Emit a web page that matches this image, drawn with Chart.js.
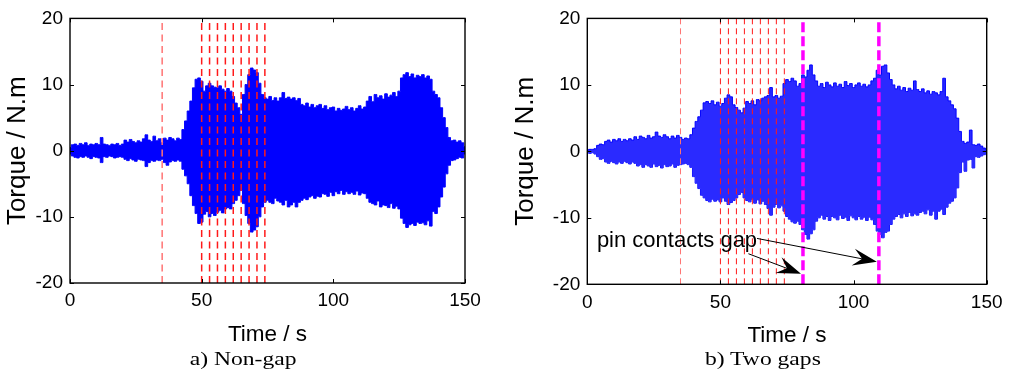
<!DOCTYPE html>
<html>
<head>
<meta charset="utf-8">
<script src="https://cdn.jsdelivr.net/npm/chart.js@4.4.1/dist/chart.umd.min.js"></script>
<style>
  html,body{margin:0;padding:0;background:#fff;}
  #wrap{position:relative;width:1014px;height:375px;overflow:hidden;background:#fff;}
  canvas{position:absolute;top:0;}
  .sub{position:absolute;top:349.3px;width:300px;text-align:center;font-family:'Liberation Serif','Times New Roman',serif;font-size:19.5px;line-height:19.5px;color:#000;}
  .sub span{display:inline-block;transform:scaleX(1.21);transform-origin:center;}
</style>
</head>
<body>
<div id="wrap">
  <canvas id="c1" width="507" height="375" style="left:0px"></canvas>
  <canvas id="c2" width="507" height="375" style="left:507px"></canvas>
  <div class="sub" style="left:93.5px"><span>a) Non-gap</span></div>
  <div class="sub" style="left:612.5px"><span>b) Two gaps</span></div>
</div>
<script>
// ---------------- DATA ----------------
// Sample times (s), one envelope sample per second
const TIME = Array.from({length:151}, (_, i) => i);

// a) Non-gap : upper / lower envelope of torque (N.m)
const NONGAP_UPPER = [0.5,0.9,1.0,0.8,1.1,0.9,1.2,0.8,1.0,0.9,
1.1,0.9,2.0,1.0,0.9,0.8,1.0,0.9,1.1,0.8,
1.0,1.6,1.3,1.7,1.4,1.2,1.5,1.3,1.8,2.4,
1.6,1.4,2.2,1.5,1.8,1.2,1.9,1.6,2.0,1.8,
1.5,1.9,1.7,3.2,4.5,6.0,7.5,9.5,10.8,11.0,
10.5,9.0,9.8,10.2,9.8,9.6,9.5,9.8,9.3,9.0,
9.4,9.0,8.2,7.2,6.5,5.5,8.5,10.0,11.5,12.5,
12.2,11.8,10.2,8.5,8.0,7.8,8.2,7.6,8.0,7.5,
8.0,8.8,7.9,8.1,7.8,8.0,7.6,7.9,7.0,6.8,
7.2,6.6,7.0,6.5,6.8,7.0,6.4,6.8,6.2,6.5,
6.6,6.0,6.4,6.1,6.3,6.7,6.2,6.5,6.0,6.4,
6.8,6.3,6.6,7.5,8.2,7.4,8.5,8.0,8.3,7.8,
8.6,8.1,8.4,8.8,8.2,9.0,11.0,11.5,11.8,11.2,
11.6,11.0,11.4,11.2,11.5,11.0,11.3,10.8,9.0,8.5,
8.0,6.5,5.0,3.5,2.0,1.5,1.6,1.3,1.5,1.2,
0.6];
const NONGAP_LOWER = [-0.5,-0.8,-1.0,-1.1,-0.9,-1.0,-0.8,-1.0,-1.2,-0.9,
-1.0,-1.1,-1.8,-0.9,-1.0,-0.8,-0.9,-1.1,-1.0,-0.9,
-1.0,-1.3,-1.5,-1.2,-1.4,-1.6,-1.3,-1.4,-1.5,-2.4,
-1.8,-1.5,-1.6,-1.4,-1.5,-1.3,-1.8,-2.2,-1.7,-1.5,
-1.6,-1.4,-1.6,-2.8,-3.8,-5.0,-6.8,-8.3,-9.5,-11.0,
-10.8,-9.6,-9.2,-10.0,-9.5,-9.8,-9.3,-9.0,-9.4,-8.8,
-8.6,-8.8,-8.0,-7.5,-6.8,-6.0,-8.0,-9.8,-11.0,-12.3,
-12.0,-11.5,-10.0,-8.5,-7.8,-7.5,-7.8,-8.0,-7.2,-7.6,
-7.8,-8.2,-7.5,-8.5,-8.2,-7.8,-8.5,-7.8,-7.5,-7.2,
-7.4,-7.0,-6.8,-7.2,-6.9,-7.0,-6.5,-6.6,-6.9,-6.3,
-6.8,-6.2,-6.5,-6.0,-6.6,-6.2,-6.5,-6.3,-6.6,-6.1,
-6.7,-6.4,-6.5,-7.2,-7.8,-8.0,-8.2,-7.6,-8.5,-8.2,
-8.3,-8.6,-8.0,-8.7,-8.4,-8.8,-10.2,-11.0,-11.6,-11.2,
-11.0,-11.3,-10.8,-11.0,-10.9,-11.2,-10.6,-11.4,-9.2,-9.5,
-8.5,-7.0,-5.5,-3.5,-2.2,-1.5,-1.4,-1.2,-1.0,-1.1,
-0.5];

// b) Two gaps : upper / lower envelope of torque (N.m)
const TWOGAP_UPPER = [0.2,0.3,0.3,0.4,0.9,1.1,1.0,1.5,1.7,1.4,
1.8,1.6,1.9,1.5,1.8,1.6,1.9,1.7,2.2,1.8,
2.3,2.1,1.9,2.4,2.0,2.2,2.9,2.3,2.1,2.5,
2.2,1.9,2.3,2.0,2.4,2.1,1.8,2.0,1.9,2.5,
3.5,4.5,5.2,6.2,7.3,7.5,7.2,7.6,7.0,7.4,
6.8,7.2,8.0,8.5,8.2,7.0,6.6,6.2,5.8,6.5,
7.5,7.2,7.6,7.0,7.8,7.6,8.0,8.2,8.4,9.6,
8.2,8.4,8.0,8.3,10.2,10.8,10.5,11.0,10.6,9.8,
10.2,11.5,11.2,12.2,13.0,11.5,10.6,9.8,10.2,9.6,
10.4,10.0,9.7,10.3,9.8,10.1,9.6,10.5,9.9,10.2,
9.6,10.0,10.3,9.8,10.1,9.7,10.0,10.6,11.0,12.2,
11.5,12.8,13.0,11.8,10.8,10.0,9.4,9.8,9.2,9.6,
9.0,9.5,9.2,10.6,9.3,9.0,9.4,8.8,9.1,8.6,
9.0,8.8,8.5,9.0,11.0,8.2,7.6,7.0,6.4,5.0,
3.0,1.5,1.2,1.4,3.2,1.0,0.9,1.1,0.8,0.5,
0.3];
const TWOGAP_LOWER = [-0.2,-0.3,-0.2,-0.4,-0.8,-1.2,-1.1,-1.6,-1.8,-1.5,
-1.7,-1.9,-1.6,-1.8,-1.5,-1.7,-1.9,-1.6,-1.8,-2.2,
-2.0,-2.4,-2.0,-2.2,-2.4,-1.9,-2.3,-2.1,-2.5,-2.0,
-2.3,-2.2,-1.9,-2.4,-2.1,-2.0,-1.9,-1.8,-2.0,-2.4,
-3.8,-4.8,-5.6,-6.6,-7.0,-7.4,-7.6,-7.2,-7.5,-7.3,
-7.6,-7.0,-7.5,-8.0,-7.7,-7.4,-7.0,-6.5,-6.2,-7.0,
-7.4,-7.6,-7.2,-7.8,-7.3,-7.9,-7.5,-8.0,-8.6,-9.6,
-8.4,-8.0,-8.5,-8.2,-9.0,-9.8,-10.2,-10.6,-10.8,-10.5,
-11.0,-11.8,-12.5,-13.2,-12.4,-11.8,-10.5,-10.0,-9.6,-10.2,
-9.8,-10.4,-9.8,-10.0,-10.3,-9.6,-10.1,-9.9,-10.4,-9.7,
-10.0,-10.3,-9.8,-10.2,-9.9,-10.4,-9.9,-10.3,-11.0,-12.0,
-12.5,-13.0,-12.2,-12.0,-11.0,-10.2,-9.8,-9.5,-10.0,-9.4,
-9.8,-9.2,-9.7,-9.4,-9.6,-9.2,-9.0,-9.4,-8.8,-9.6,
-9.0,-10.2,-9.0,-8.7,-9.5,-8.4,-7.8,-7.5,-7.0,-5.5,
-3.2,-1.6,-3.0,-1.3,-1.2,-2.5,-0.8,-0.9,-0.7,-0.5,
-0.3];

// Marker times (s)
const MARK_FIRST = 35;
const MARK_TIMES = [50,53,56,59,62,65,68,71,74];
const GAP_TIMES = [81,109.5];

// Axis ticks
const X_TICKS = [0,50,100,150];
const Y_TICKS = [-20,-10,0,10,20];
const Y_RANGE = [-20,20];

// Annotation
const ANNOT_TEXT = 'pin contacts gap';
const ARROW_TAILS = [[60.5,-15.4],[63.75,-13.1]];
const ARROW_TIP_VALUES = [-18.4,-16.6];

// ---------------- DRAWING ----------------
Chart.defaults.font.family = "'Liberation Sans', Arial, sans-serif";
Chart.defaults.color = '#000';

const pts = arr => arr.map((v, i) => ({x: TIME[i], y: v}));
const vline = (t, color, width, dash) => ({
  data: [{x: t, y: Y_RANGE[0]}, {x: t, y: Y_RANGE[1]}],
  borderColor: color, borderWidth: width, borderDash: dash,
  pointRadius: 0, fill: false, order: 1
});

const framePlugin = {
  id: 'frame',
  afterDatasetsDraw(chart) {
    const {ctx, chartArea: {left, right, top, bottom}, scales: {x, y}} = chart;
    ctx.save();
    ctx.strokeStyle = '#000';
    ctx.lineWidth = 1.4;
    ctx.strokeRect(left, top, right - left, bottom - top);
    ctx.lineWidth = 1;
    ctx.beginPath();
    X_TICKS.forEach(v => {
      const px = Math.round(x.getPixelForValue(v)) + 0.5;
      ctx.moveTo(px, bottom); ctx.lineTo(px, bottom - 4);
      ctx.moveTo(px, top); ctx.lineTo(px, top + 4);
    });
    Y_TICKS.forEach(v => {
      const py = Math.round(y.getPixelForValue(v)) + 0.5;
      ctx.moveTo(left, py); ctx.lineTo(left + 4, py);
      ctx.moveTo(right, py); ctx.lineTo(right - 4, py);
    });
    ctx.stroke();
    ctx.restore();
  }
};

const annotPlugin = {
  id: 'annot',
  afterDatasetsDraw(chart) {
    const {ctx, scales: {x, y}} = chart;
    ctx.save();
    ctx.fillStyle = '#000';
    ctx.strokeStyle = '#000';
    ctx.font = "22px 'Liberation Sans', Arial, sans-serif";
    ctx.textBaseline = 'alphabetic';
    ctx.textAlign = 'left';
    ctx.fillText(ANNOT_TEXT, x.getPixelForValue(3.6), y.getPixelForValue(-14.35));
    GAP_TIMES.forEach((g, i) => {
      const tx = x.getPixelForValue(g) - 2, ty = y.getPixelForValue(ARROW_TIP_VALUES[i]);
      const sx = x.getPixelForValue(ARROW_TAILS[i][0]), sy = y.getPixelForValue(ARROW_TAILS[i][1]);
      let dx = tx - sx, dy = ty - sy;
      const len = Math.hypot(dx, dy); dx /= len; dy /= len;
      const nx = -dy, ny = dx;
      const L = 24, W = 8.5, N = 15;
      ctx.lineWidth = 1;
      ctx.beginPath();
      ctx.moveTo(sx, sy);
      ctx.lineTo(tx - dx * N, ty - dy * N);
      ctx.stroke();
      ctx.beginPath();
      ctx.moveTo(tx, ty);
      ctx.lineTo(tx - dx * L + nx * W, ty - dy * L + ny * W);
      ctx.lineTo(tx - dx * N, ty - dy * N);
      ctx.lineTo(tx - dx * L - nx * W, ty - dy * L - ny * W);
      ctx.closePath();
      ctx.fill();
    });
    ctx.restore();
  }
};

function makeChart(canvasId, upper, lower, cfg) {
  const datasets = [];
  (cfg.extraLines || []).forEach(d => datasets.push(d));
  datasets.push({
    data: pts(upper), borderColor: cfg.sigColor, backgroundColor: cfg.fillColor,
    borderWidth: 1, pointRadius: 0, fill: '+1', order: 10, stepped: 'middle'
  });
  datasets.push({
    data: pts(lower), borderColor: cfg.sigColor, borderWidth: 1,
    pointRadius: 0, fill: false, order: 11, stepped: 'middle'
  });
  return new Chart(document.getElementById(canvasId), {
    type: 'line',
    data: {datasets},
    plugins: cfg.plugins,
    options: {
      responsive: false,
      animation: false,
      events: [],
      layout: {padding: {left: 0, right: cfg.padRight, top: cfg.padTop, bottom: 0}},
      plugins: {legend: {display: false}, tooltip: {enabled: false}},
      scales: {
        x: {
          type: 'linear', min: 0, max: 150,
          afterBuildTicks: s => { s.ticks = X_TICKS.map(v => ({value: v})); },
          ticks: {padding: cfg.xTickPad, font: {size: 19}, color: '#000', maxRotation: 0, autoSkip: false,
                  callback: v => String(v)},
          grid: {display: false, drawTicks: false},
          border: {display: false},
          title: {display: true, text: 'Time / s', font: {size: 22.5}, color: '#000',
                  padding: {top: 0, bottom: cfg.xTitlePad}},
          afterFit: s => { s.height = cfg.xHeight; }
        },
        y: {
          type: 'linear', min: Y_RANGE[0], max: Y_RANGE[1],
          afterBuildTicks: s => { s.ticks = Y_TICKS.map(v => ({value: v})); },
          ticks: {padding: 7, font: {size: 19}, color: '#000', autoSkip: false,
                  callback: v => String(v)},
          grid: {display: false, drawTicks: false},
          border: {display: false},
          title: {display: true, text: 'Torque / N.m', font: {size: 26}, color: '#000',
                  padding: {top: cfg.yTitlePad, bottom: 0}},
          afterFit: s => { s.width = cfg.yWidth; }
        }
      }
    }
  });
}

// a) Non-gap
makeChart('c1', NONGAP_UPPER, NONGAP_LOWER, {
  sigColor: '#0000ff', fillColor: '#0000ff',
  padRight: 42, padTop: 17.5, xHeight: 92, yWidth: 70, xTickPad: 6, xTitlePad: 27, yTitlePad: 2.4,
  extraLines: [vline(MARK_FIRST, '#ff7373', 1.5, [7, 4.5])]
    .concat(MARK_TIMES.map(t => vline(t, '#ff1a1a', 1.5, [7, 4.5]))),
  plugins: [framePlugin]
});

// b) Two gaps
makeChart('c2', TWOGAP_UPPER, TWOGAP_LOWER, {
  sigColor: '#0000ff', fillColor: '#2a2aff',
  padRight: 27.3, padTop: 18.3, xHeight: 90.7, yWidth: 80.3, xTickPad: 7, xTitlePad: 26, yTitlePad: 3.4,
  extraLines: GAP_TIMES.map(t => vline(t, '#ff00ff', 3.5, [10, 4]))
    .concat([vline(MARK_FIRST, '#ff7373', 1, [6, 4])])
    .concat(MARK_TIMES.map(t => vline(t, '#ff1a1a', 1, [6, 4]))),
  plugins: [framePlugin, annotPlugin]
});
</script>
</body>
</html>
